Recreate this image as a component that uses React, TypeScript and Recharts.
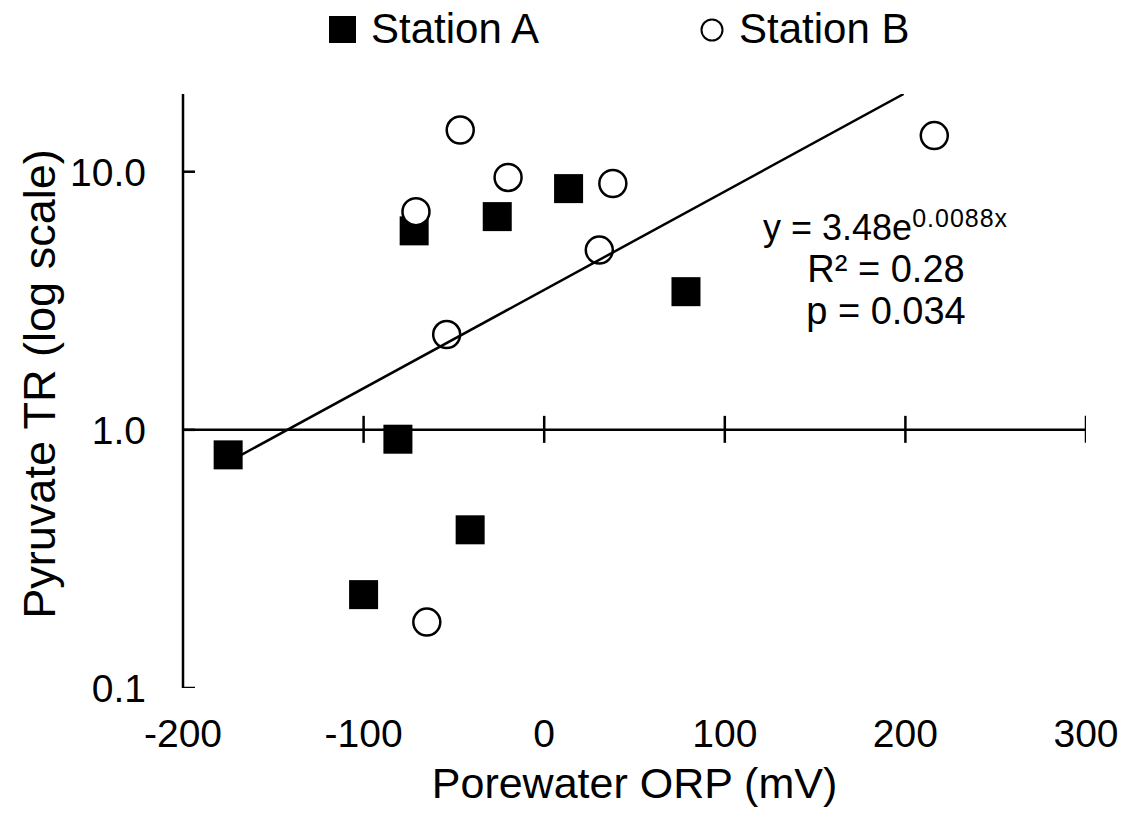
import { ScatterChart, Scatter, XAxis, YAxis, ReferenceLine } from 'recharts';

// axis ticks
const xTicks = [-200, -100, 0, 100, 200, 300];
const yTicks = [0.1, 1, 10];

// Porewater ORP (mV) vs pyruvate TR
const stationA = [
    { x: -175, y: 0.8 },
    { x: -72, y: 5.9 },
    { x: -81, y: 0.92 },
    { x: -26, y: 6.7 },
    { x: 13.5, y: 8.6 },
    { x: 78.5, y: 3.43 },
    { x: -41, y: 0.41 },
    { x: -100, y: 0.23 },
];

const stationB = [
    { x: -46.5, y: 14.5 },
    { x: -20, y: 9.5 },
    { x: 38, y: 9.0 },
    { x: -71, y: 7.0 },
    { x: 30.5, y: 4.97 },
    { x: -54, y: 2.34 },
    { x: 216, y: 13.8 },
    { x: -65, y: 0.18 },
];

// exponential fit y = 3.48e^(0.0088x), endpoints
const trendLine = [
    { x: -175, y: 0.75 },
    { x: 199, y: 20 },
];

const xTickMarks = xTicks.filter((v) => v > -200).map((v) => ({ x: v, y: 1 }));
const yTickMarks = yTicks.map((v) => ({ x: -200, y: v }));

const FONT = 'Liberation Sans, Arial, Helvetica, sans-serif';

const SquareDot = (props: any) => (
    <rect x={props.cx - 14.5} y={props.cy - 14.5} width={29} height={29} fill="#000" />
);

const CircleDot = (props: any) => (
    <circle cx={props.cx} cy={props.cy} r={13.5} fill="#fff" stroke="#000" strokeWidth={2.5} />
);

const VTick = (props: any) => (
    <line x1={props.cx} x2={props.cx} y1={props.cy - 14} y2={props.cy + 13} stroke="#000" strokeWidth={2.5} />
);

const HTick = (props: any) => (
    <line x1={props.cx - 12} x2={props.cx + 12} y1={props.cy} y2={props.cy} stroke="#000" strokeWidth={2.5} />
);

const NoDot = () => <g />;

const App = () => {
    return (
        <div style={{ position: 'absolute', left: 0, top: 0, width: 1126, height: 825, background: '#fff', fontFamily: FONT }}>
            <ScatterChart width={1126} height={825} margin={{ top: 94, right: 40, bottom: 0, left: 0 }}>
                <XAxis
                    type="number"
                    dataKey="x"
                    domain={[-200, 300]}
                    ticks={xTicks}
                    interval={0}
                    allowDataOverflow
                    axisLine={false}
                    tickLine={false}
                    tickSize={0}
                    tickMargin={31}
                    height={137}
                    tick={{ fill: '#000', fontSize: 39, fontFamily: FONT }}
                    label={{ value: 'Porewater ORP (mV)', position: 'center', dy: 26, fill: '#000', fontSize: 43, fontFamily: FONT }}
                />
                <YAxis
                    type="number"
                    dataKey="y"
                    scale="log"
                    domain={[0.1, 20]}
                    ticks={yTicks}
                    interval={0}
                    allowDataOverflow
                    width={183}
                    axisLine={{ stroke: '#000', strokeWidth: 2.5 }}
                    tickLine={false}
                    tickSize={0}
                    tickMargin={37}
                    tickFormatter={(v: number) => v.toFixed(1)}
                    tick={{ fill: '#000', fontSize: 39, fontFamily: FONT }}
                    label={{ value: 'Pyruvate TR (log scale)', angle: -90, position: 'center', dx: -52, dy: -7, fill: '#000', fontSize: 45, fontFamily: FONT }}
                />
                <ReferenceLine y={1} stroke="#000" strokeWidth={2.5} />
                <Scatter data={xTickMarks} shape={VTick} isAnimationActive={false} legendType="none" />
                <Scatter data={yTickMarks} shape={HTick} isAnimationActive={false} legendType="none" />
                <Scatter name="Station A" data={stationA} shape={SquareDot} isAnimationActive={false} />
                <Scatter name="Station B" data={stationB} shape={CircleDot} isAnimationActive={false} />
                <Scatter
                    data={trendLine}
                    line={{ stroke: '#000', strokeWidth: 2.5 }}
                    shape={NoDot}
                    isAnimationActive={false}
                    legendType="none"
                />
            </ScatterChart>
            <svg
                width={1126}
                height={825}
                style={{ position: 'absolute', left: 0, top: 0, pointerEvents: 'none' }}
                fontFamily={FONT}
            >
                {/* legend */}
                <rect x={329} y={16} width={27} height={27} fill="#000" />
                <text x={371} y={43} fontSize={42} fill="#000">Station A</text>
                <circle cx={712} cy={30} r={10.5} fill="#fff" stroke="#000" strokeWidth={2} />
                <text x={739} y={43} fontSize={42} fill="#000">Station B</text>
                {/* fit annotation */}
                <text x={763} y={240} fontSize={36} fill="#000">
                    y = 3.48e<tspan dy={-13} fontSize={25} letterSpacing={1}>0.0088x</tspan>
                </text>
                <text x={886} y={282} fontSize={38} fill="#000" textAnchor="middle">R² = 0.28</text>
                <text x={886} y={324} fontSize={38} fill="#000" textAnchor="middle">p = 0.034</text>
            </svg>
        </div>
    );
};

export default App;
